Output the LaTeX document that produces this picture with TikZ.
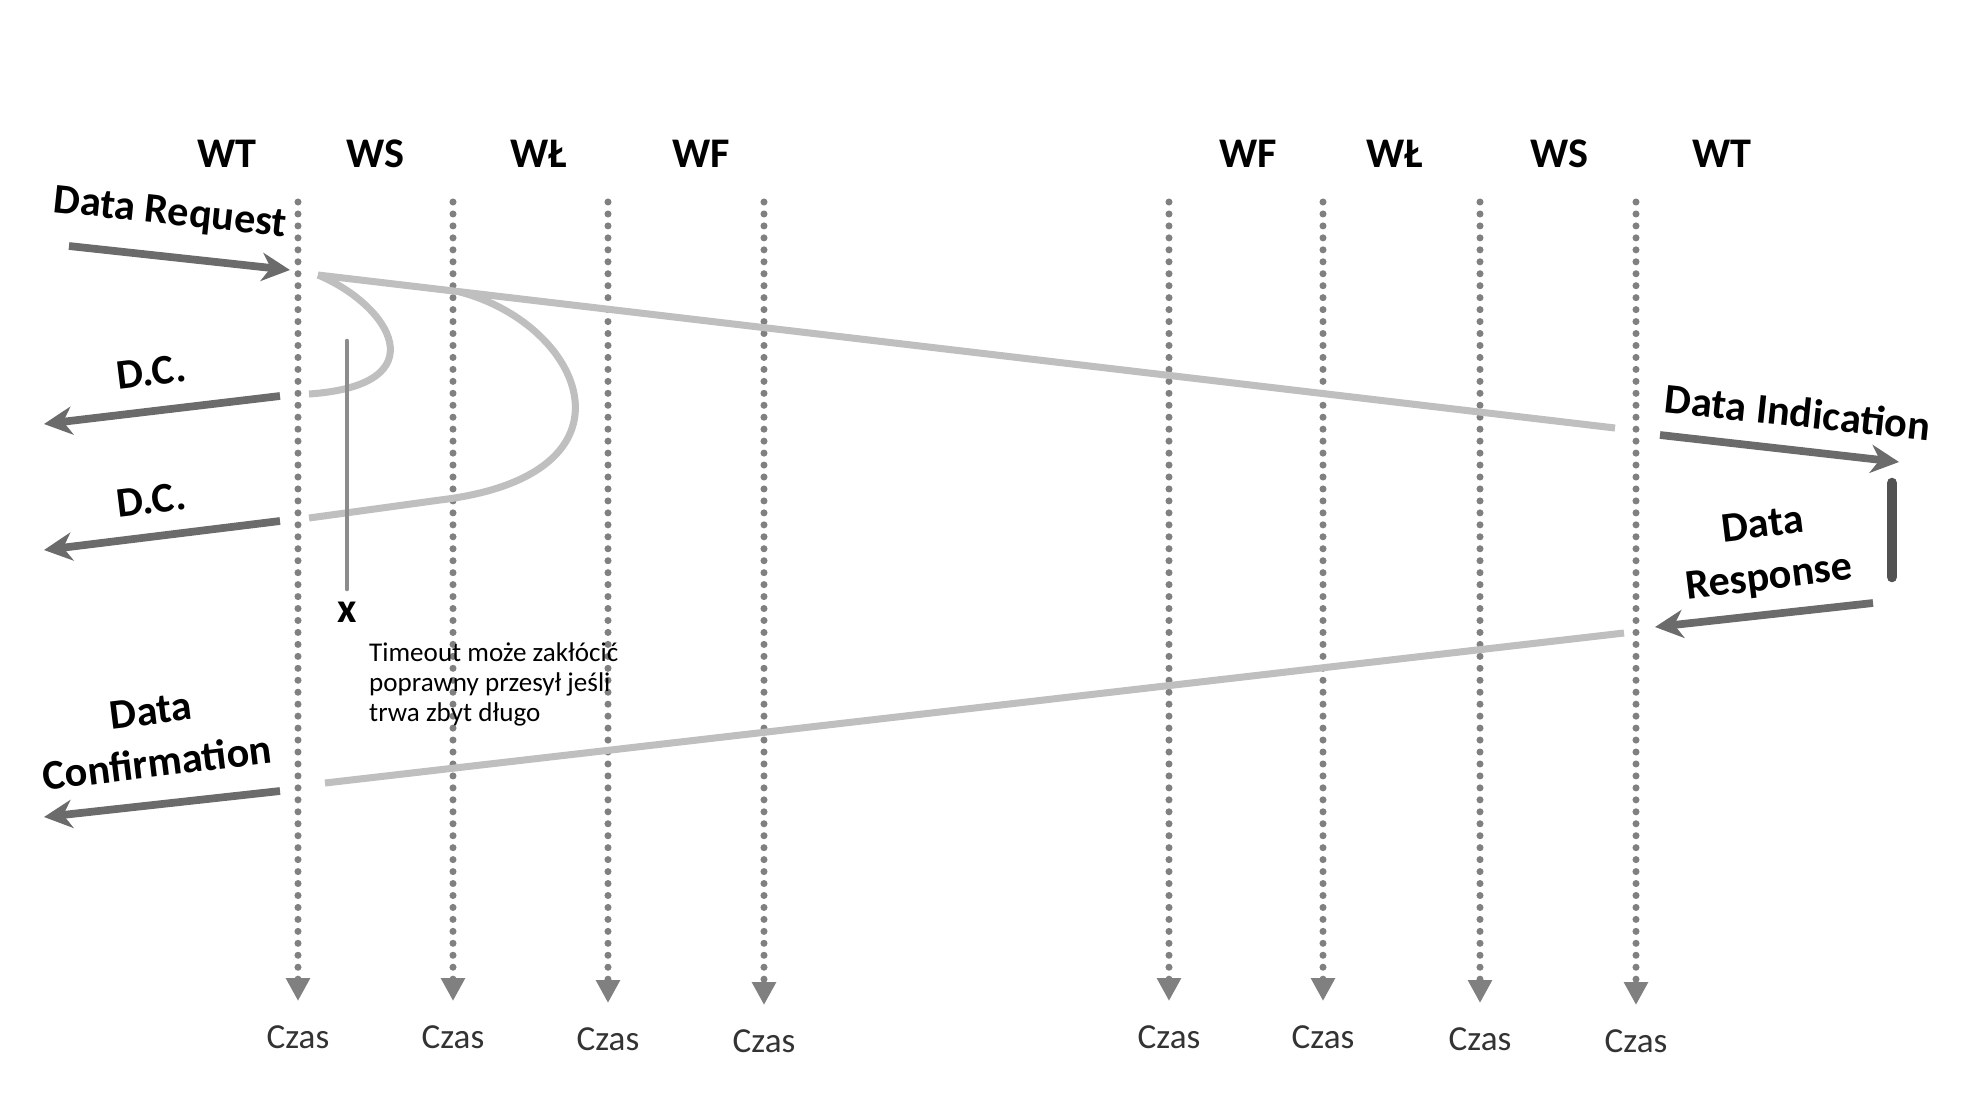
\documentclass[tikz,border=0pt]{standalone}
\usepackage{fontspec}
\setmainfont{Carlito}
\usetikzlibrary{arrows.meta}

\begin{document}
\begin{tikzpicture}[x=0.01cm, y=-0.01cm,
	every node/.style={font=\bfseries\fontsize{12}{15}\selectfont, inner sep=1pt},
	lifeline/.style={black!50, line width=2pt, line cap=round, dash pattern=on 0pt off 3.4pt, -{Triangle[width=6.5pt,length=6.5pt]}},
	msg/.style={black!25, line width=2pt},
	prim/.style={black!58, line width=2.2pt, -{Stealth[length=8pt,width=8pt,inset=2.5pt]}},
	czas/.style={font=\fontsize{10}{12}\selectfont, text=black!80},
	timeout/.style={black!45, line width=1.3pt, line cap=round},
	busy/.style={black!68, line width=3pt, line cap=round}]
	\useasboundingbox (0,0) rectangle (1978,1108);
	\foreach \x/\t in {227/WT, 375/WS, 539/WŁ, 701/WF, 1248/WF, 1395/WŁ, 1559/WS, 1722/WT}
		\node (hd\x) at (\x,154) {\t};
	\foreach \x/\y/\n in {298/1037/a, 453/1037/b, 608/1039/c, 764/1041/d, 1169/1037/e, 1323/1037/f, 1480/1039/g, 1636/1041/h} {
		\coordinate (top\n) at (\x,202);
		\coordinate (end\n) at (\x,\y-36);
		\node[czas] (czas\n) at (\x,\y) {Czas};
		\draw[lifeline] (top\n) -- (end\n);
	}
	\coordinate (reqS) at (318,275);
	\coordinate (indE) at (1615,428);
	\coordinate (resS) at (1624,633);
	\coordinate (cnfE) at (325,783);
	\coordinate (wsS) at (460,292);
	\coordinate (dcA) at (309,394);
	\coordinate (dcB) at (309,518);
	\draw[msg] (reqS) -- (indE);
	\draw[msg] (resS) -- (cnfE);
	\draw[msg] (reqS) .. controls (390,305) and (440,385) .. (dcA);
	\draw[msg] (wsS) .. controls (585,325) and (648,475) .. (440,500) -- (dcB);
	\node[rotate=-6] (lblreq) at (170,214) {Data Request};
	\coordinate (reqA) at (69,246);
	\coordinate (reqB) at (290,270);
	\draw[prim] (reqA) -- (reqB);
	\node[rotate=7] (lbldcA) at (151,372) {D.C.};
	\coordinate (dcAa) at (280,396);
	\coordinate (dcAb) at (44,424);
	\draw[prim] (dcAa) -- (dcAb);
	\node[rotate=7] (lbldcB) at (151,500) {D.C.};
	\coordinate (dcBa) at (280,521);
	\coordinate (dcBb) at (44,550);
	\draw[prim] (dcBa) -- (dcBb);
	\node[rotate=7, align=center] (lblcnf) at (154,737) {Data\\Confirmation};
	\coordinate (cnfA) at (280,791);
	\coordinate (cnfB) at (44,817);
	\draw[prim] (cnfA) -- (cnfB);
	\node[rotate=-6] (lblind) at (1798,412) {Data Indication};
	\coordinate (indA) at (1660,435);
	\coordinate (indB) at (1899,462);
	\draw[prim] (indA) -- (indB);
	\node[rotate=7, align=center] (lblres) at (1766,553) {Data\\Response};
	\coordinate (resA) at (1873,603);
	\coordinate (resB) at (1655,627);
	\draw[prim] (resA) -- (resB);
	\coordinate (busyT) at (1892,483);
	\coordinate (busyB) at (1892,577);
	\draw[busy] (busyT) -- (busyB);
	\coordinate (tmoT) at (347,341);
	\coordinate (tmoB) at (347,589);
	\draw[timeout] (tmoT) -- (tmoB);
	\node (tmoX) at (347,612) {x};
	\node[anchor=north west, align=left, font=\fontsize{7.7}{8.6}\selectfont] (tmotxt) at (365,638) {Timeout może zakłócić\\poprawny przesył jeśli\\trwa zbyt długo};
\end{tikzpicture}
\end{document}
